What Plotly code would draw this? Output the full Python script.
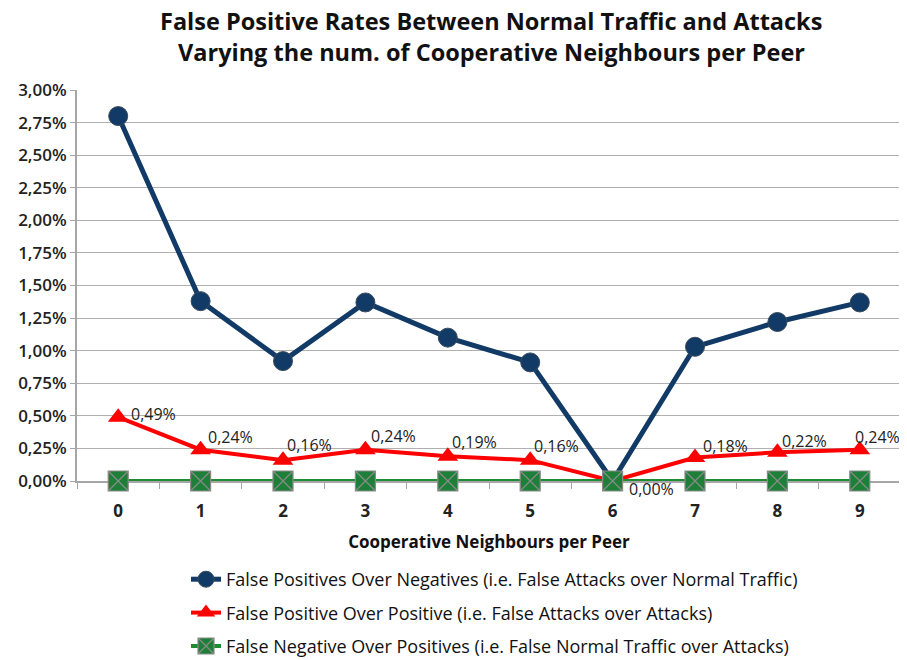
import plotly.graph_objects as go

categories = [0, 1, 2, 3, 4, 5, 6, 7, 8, 9]
fp_over_neg = [2.80, 1.38, 0.92, 1.37, 1.10, 0.91, 0.00, 1.03, 1.22, 1.37]
fp_over_pos = [0.49, 0.24, 0.16, 0.24, 0.19, 0.16, 0.00, 0.18, 0.22, 0.24]
fn_over_pos = [0, 0, 0, 0, 0, 0, 0, 0, 0, 0]
y_ticks = [0, 0.25, 0.5, 0.75, 1.0, 1.25, 1.5, 1.75, 2.0, 2.25, 2.5, 2.75, 3.0]

names = [
    "False Positives Over Negatives (i.e. False Attacks over Normal Traffic)",
    "False Positive Over Positive (i.e. False Attacks over Attacks)",
    "False Negative Over Positives (i.e. False Normal Traffic over Attacks)",
]
title_lines = [
    "False Positive Rates Between Normal Traffic and Attacks",
    "Varying the num. of Cooperative Neighbours per Peer",
]

# label pixel offsets (style only)
label_dx = [12, 6, 3, 5, 3, 3, 15, 7, 4, -6]
label_dy = [3, 13, 15, 14, 14, 14, -8, 12, 11, 13]

FONT = "Open Sans"
# the page body has an 8px margin; the figure is sized/placed to compensate
W, H = 899, 652
L, T, R, B = 69, 82, 6, 179
PW = W - L - R
PH = H - T - B

def px_x(x_screen):
    return (x_screen - 8 - L) / PW

def px_y(y_screen):
    return (H - B - (y_screen - 8)) / PH

fig = go.Figure()

fig.add_trace(go.Scatter(
    x=categories, y=fp_over_neg, mode="lines+markers", name=names[0],
    legendgroup="a",
    line=dict(color="#123a66", width=5),
    marker=dict(symbol="circle", size=19, color="#123a66",
                line=dict(color="#3a4a5a", width=1)),
    cliponaxis=False,
))

fig.add_trace(go.Scatter(
    x=categories, y=fp_over_pos, mode="lines+markers", name=names[1],
    legendgroup="b",
    line=dict(color="#ff0000", width=4),
    marker=dict(symbol="triangle-up", size=18, color="#ff0000"),
    cliponaxis=False,
))

fig.add_trace(go.Scatter(
    x=categories, y=fn_over_pos, mode="lines+markers", name=names[2],
    legendgroup="c",
    line=dict(color="#1e8c32", width=4),
    marker=dict(symbol="square-x", size=20, color="#1e8038",
                line=dict(color="#8a8a8a", width=1.2)),
    cliponaxis=False,
))

for c, v, dx, dy in zip(categories, fp_over_pos, label_dx, label_dy):
    fig.add_annotation(
        x=c, y=v, xref="x", yref="y",
        text=f"{v:.2f}%".replace(".", ","), showarrow=False,
        xanchor="left", yanchor="middle", xshift=dx, yshift=dy,
        borderpad=0,
        font=dict(family=FONT, size=16, color="#222222"),
    )

for t, ypx in zip(title_lines, [21, 52]):
    fig.add_annotation(
        text=t, xref="paper", yref="paper",
        x=px_x(491), y=px_y(ypx),
        xanchor="center", yanchor="middle", showarrow=False,
        borderpad=0,
        font=dict(family=FONT, size=23.5, color="#111111", weight="bold"),
    )

fig.update_layout(
    width=W, height=H,
    margin=dict(l=L, r=R, t=T, b=B, autoexpand=False),
    paper_bgcolor="white", plot_bgcolor="white",
    font=dict(family=FONT, color="#222222"),
    showlegend=True,
    legend=dict(
        orientation="v", x=px_x(186), xanchor="left",
        y=px_y(561), yanchor="top",
        font=dict(family=FONT, size=18, color="#111111"),
        tracegroupgap=7, itemwidth=30,
    ),
)

fig.update_xaxes(
    range=[-0.5, 9.5],
    tickvals=categories, ticktext=[str(c) for c in categories],
    ticks="outside", ticklen=14, tickcolor="rgba(0,0,0,0)",
    showgrid=False,
    showline=True, linecolor="#a6a6a6", linewidth=1.5,
    layer="below traces",
    tickfont=dict(family=FONT, size=17, color="#222222", weight="bold"),
    minor=dict(ticks="outside", tick0=-0.5, dtick=1, ticklen=6,
               tickcolor="#a6a6a6", showgrid=False),
    title=dict(text="Cooperative Neighbours per Peer",
               font=dict(family=FONT, size=17, color="#111111", weight="bold"),
               standoff=15),
    zeroline=False,
)

fig.update_yaxes(
    range=[0, 3.0],
    tickvals=y_ticks, ticktext=[f"{v:.2f}%".replace(".", ",") for v in y_ticks],
    showgrid=True, gridcolor="#b0b0b0", gridwidth=1.2,
    showline=True, linecolor="#a6a6a6", linewidth=2,
    layer="below traces",
    ticks="outside", ticklen=5, tickcolor="#a6a6a6",
    tickfont=dict(family=FONT, size=17, color="#222222", weight=600),
    zeroline=False,
)

fig.write_html("out.html")
